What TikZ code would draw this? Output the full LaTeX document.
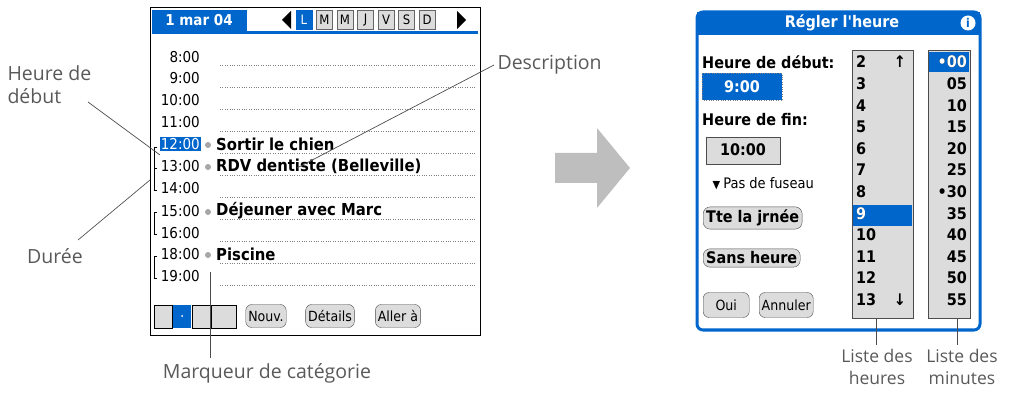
\documentclass[tikz,border=0pt]{standalone}
\usepackage{fontspec}
\setmainfont{Open Sans}
\newfontfamily\palm{DejaVu Sans Condensed}
\usetikzlibrary{positioning}
\definecolor{palmblue}{RGB}{0,102,204}
\definecolor{keygray}{RGB}{220,220,220}
\definecolor{arrowgray}{RGB}{190,190,190}
\tikzset{
  lbl/.style={font=\fontsize{19.5}{23}\selectfont, text=black!65, align=left},
  lead/.style={draw=black!70, line width=0.7pt},
  hour/.style={font=\palm\fontsize{15}{15}\selectfont, anchor=east, inner sep=1pt},
  event/.style={font=\palm\bfseries\fontsize{16.5}{17}\selectfont, anchor=west, inner sep=0pt},
  dayk/.style={draw=black!60, fill=keygray, minimum width=16pt, minimum height=19pt, inner sep=0pt, font=\palm\fontsize{13}{13}\selectfont},
  pbtn/.style={draw=black!70, fill=keygray, rounded corners=6pt, inner sep=2.5pt, font=\palm\fontsize{14}{15}\selectfont},
  bbtn/.style={draw=black!70, fill=keygray, rounded corners=7pt, inner sep=3pt, font=\palm\bfseries\fontsize{16}{17}\selectfont},
  num/.style={font=\palm\bfseries\fontsize{16}{17}\selectfont, inner sep=0pt}
}
\begin{document}
\begin{tikzpicture}[x=1pt,y=-1pt]
\useasboundingbox (0,0) rectangle (1020,403);
% Agenda screen
\draw[line width=1pt] (150,8) rectangle (480,335);
\fill[palmblue] (152,10) rectangle (247,31);
\fill[palmblue] (152,31) rectangle (478,34);
\node[font=\palm\bfseries\fontsize{15}{15}\selectfont, text=white] (date) at (199,20) {1 mar 04};
\fill (291,11) -- (291,29) -- (282,20) -- cycle;
\node[dayk, fill=palmblue, draw=palmblue, text=white] (dL) at (304,20) {L};
\foreach \d [count=\i] in {M,M,J,V,S,D}
  \node[dayk] (d\i) at (304+\i*20.5,20) {\d};
\fill (457,11) -- (457,29) -- (466,20) -- cycle;
% hours
\foreach \h/\y in {8:00/57,9:00/78,10:00/100,11:00/122,13:00/166,14:00/188,15:00/211,16:00/233,18:00/254,19:00/276}
  \node[hour] at (201,\y) {\h};
\node[hour, fill=palmblue, text=white] (noon) at (201,144) {12:00};
\foreach \y in {65,87,109,131,153,175,197,219,241,263,285}
  \draw[dotted, black!50] (220,\y) -- (476,\y);
\foreach \a/\b in {147/168,168/190,212/234,256/278}
  \draw[line width=0.8pt] (157,\a) -- (154,\a) -- (154,\b) -- (157,\b);
\foreach \y in {145,167,212,255}
  \fill[black!35] (208,\y) circle (3);
\node[event] (e1) at (216,144) {Sortir le chien};
\node[event] (e2) at (216,166) {RDV dentiste (Belleville)};
\node[event] (e3) at (216,211) {Déjeuner avec Marc};
\node[event] (e4) at (216,254) {Piscine};
% bottom bar
\draw[fill=keygray] (154,305) rectangle (172,328);
\fill[palmblue] (173,305) rectangle (191,328);
\fill[white] (182,316) circle (1);
\draw[fill=keygray] (192,305) rectangle (210,328);
\draw[fill=keygray] (211,305) rectangle (236,328);
\node[pbtn, minimum height=23pt] (nouv) at (266,316) {Nouv.};
\node[pbtn, minimum height=23pt] (det) at (330,316) {Détails};
\node[pbtn, minimum height=23pt] (aller) at (398,316) {Aller à};
% labels of the agenda
\node[lbl, anchor=north west] (deb) at (4,62) {Heure de\\début};
\coordinate (debEnd) at (160,155);
\draw[lead] (88,102) -- (debEnd);
\node[lbl] (dur) at (55,256) {Durée};
\coordinate (durEnd) at (150,180);
\draw[lead] (78,240) -- (durEnd);
\node[lbl, anchor=west] (desc) at (494,65) {Description};
\coordinate (descEnd) at (297,168);
\draw[lead] (desc.west) -- (descEnd);
\node[lbl] (marq) at (267,373) {Marqueur de catégorie};
\draw[lead] (210,272) -- (210,358);
% big arrow
\fill[arrowgray] (555,153) -- (597,153) -- (597,128) -- (630,168) -- (597,208) -- (597,183) -- (555,183) -- cycle;
% time dialog
\draw[palmblue, line width=3pt, rounded corners=6pt] (697,12) rectangle (980,330);
\fill[palmblue] (697,12) rectangle (980,35);
\node[font=\palm\bfseries\fontsize{16}{17}\selectfont, text=white] (title) at (842,23) {Régler l'heure};
\fill[white] (968,23) circle (7.5);
\node[font=\palm\bfseries\fontsize{12}{12}\selectfont, text=palmblue] (info) at (968,23) {i};
\node[num, anchor=west] (hdeb) at (702,62) {Heure de début:};
\draw[fill=palmblue, draw=black!50, dotted] (702,73) rectangle (782,100);
\node[num, text=white] (t9) at (742,87) {9:00};
\node[num, anchor=west] (hfin) at (702,120) {Heure de fin:};
\draw[fill=keygray, draw=black!70] (706,137) rectangle (780,164);
\node[num] (t10) at (743,150) {10:00};
\node[font=\palm\fontsize{14.5}{15}\selectfont, anchor=west] (fus) at (709,184) {\fontsize{11}{11}\selectfont▼\ \fontsize{14.5}{15}\selectfont Pas de fuseau};
\node[bbtn, anchor=west] (tte) at (703,218) {Tte la jrnée};
\node[bbtn, anchor=west] (sans) at (703,258) {Sans heure};
\node[pbtn, minimum width=46pt, minimum height=25pt, anchor=west] (oui) at (703,305) {Oui};
\node[pbtn, minimum height=25pt, anchor=west] (ann) at (759,305) {Annuler};
% hours list
\draw[fill=keygray, draw=black!70] (852,50) rectangle (913,318);
\fill[palmblue] (853,205) rectangle (912,226);
\foreach \n [count=\i from 0] in {2,3,4,5,6,7,8,9,10,11,12,13}
  \node[num, anchor=west] (h\n) at (856,62+\i*21.6) {\n};
\node[num, text=white, anchor=west] at (856,62+7*21.6) {9};
\node[num] (up) at (900,62) {\palm↑};
\node[num] (dn) at (900,299.6) {\palm↓};
% minutes list
\draw[fill=keygray, draw=black!70] (928,50) rectangle (970,318);
\fill[palmblue] (929,52) rectangle (969,72);
\foreach \m [count=\i from 0] in {•00,05,10,15,20,25,•30,35,40,45,50,55}
  \node[num, anchor=east] (m\i) at (967,62+\i*21.6) {\m};
\node[num, anchor=east, text=white] at (967,62) {•00};
% list labels
\node[lbl, align=center, font=\fontsize{17.5}{22}\selectfont] (lh) at (877,367) {Liste des\\heures};
\node[lbl, align=center, font=\fontsize{17.5}{22}\selectfont] (lm) at (962,367) {Liste des\\minutes};
\draw[lead] (876,318) -- (876,345);
\draw[lead] (957,318) -- (957,345);
\end{tikzpicture}
\end{document}
